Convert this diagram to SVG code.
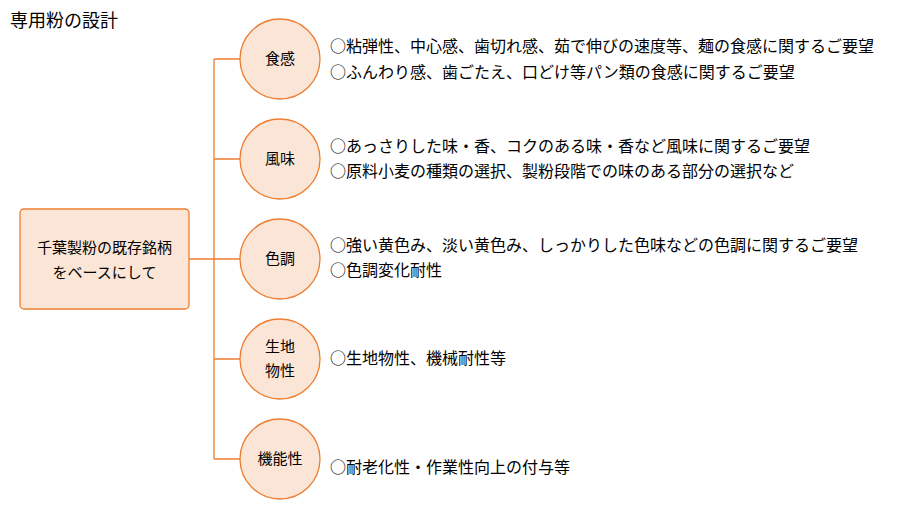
<svg xmlns="http://www.w3.org/2000/svg" width="898" height="529" viewBox="0 0 898 529">
<style>
text{font-family:"Noto Sans CJK JP","Noto Sans",sans-serif;fill:#000;font-size:16px}
.t{font-size:18px}
.n{fill:#FBE5D6;stroke:#ED7D31;stroke-width:1.3}
.c{fill:none;stroke:#ED7D31;stroke-width:1.3}
.m{text-anchor:middle;font-size:15px}
</style>
<rect width="898" height="529" fill="#fff"/>
<text class="t" x="10" y="27">専用粉の設計</text>
<g id="connectors">
<path class="c" d="M214 59V459M214 59H240M214 159H240M214 259H240M214 359H240M214 459H240M189 259H214"/>
</g>
<g id="root">
<rect class="n" x="20" y="209" width="169" height="100" rx="4"/>
<text class="m" x="104.5" y="253">千葉製粉の既存銘柄</text>
<text class="m" x="104.5" y="278">をベースにして</text>
</g>
<g id="n1">
<circle class="n" cx="280" cy="59" r="40"/>
<text class="m" x="280" y="64">食感</text>
</g>
<g id="n2">
<circle class="n" cx="280" cy="159" r="40"/>
<text class="m" x="280" y="164">風味</text>
</g>
<g id="n3">
<circle class="n" cx="280" cy="259" r="40"/>
<text class="m" x="280" y="264">色調</text>
</g>
<g id="n4">
<circle class="n" cx="280" cy="359" r="40"/>
<text class="m" x="280" y="352">生地</text>
<text class="m" x="280" y="376">物性</text>
</g>
<g id="n5">
<circle class="n" cx="280" cy="459" r="40"/>
<text class="m" x="280" y="464">機能性</text>
</g>
<g id="labels">
<text x="330" y="52">○粘弾性、中心感、歯切れ感、茹で伸びの速度等、麺の食感に関するご要望</text>
<text x="330" y="78">○ふんわり感、歯ごたえ、口どけ等パン類の食感に関するご要望</text>
<text x="330" y="152">○あっさりした味・香、コクのある味・香など風味に関するご要望</text>
<text x="330" y="177">○原料小麦の種類の選択、製粉段階での味のある部分の選択など</text>
<text x="330" y="251">○強い黄色み、淡い黄色み、しっかりした色味などの色調に関するご要望</text>
<text x="330" y="276">○色調変化耐性</text>
<text x="330" y="364">○生地物性、機械耐性等</text>
<text x="330" y="473">○耐老化性・作業性向上の付与等</text>
</g>
</svg>
